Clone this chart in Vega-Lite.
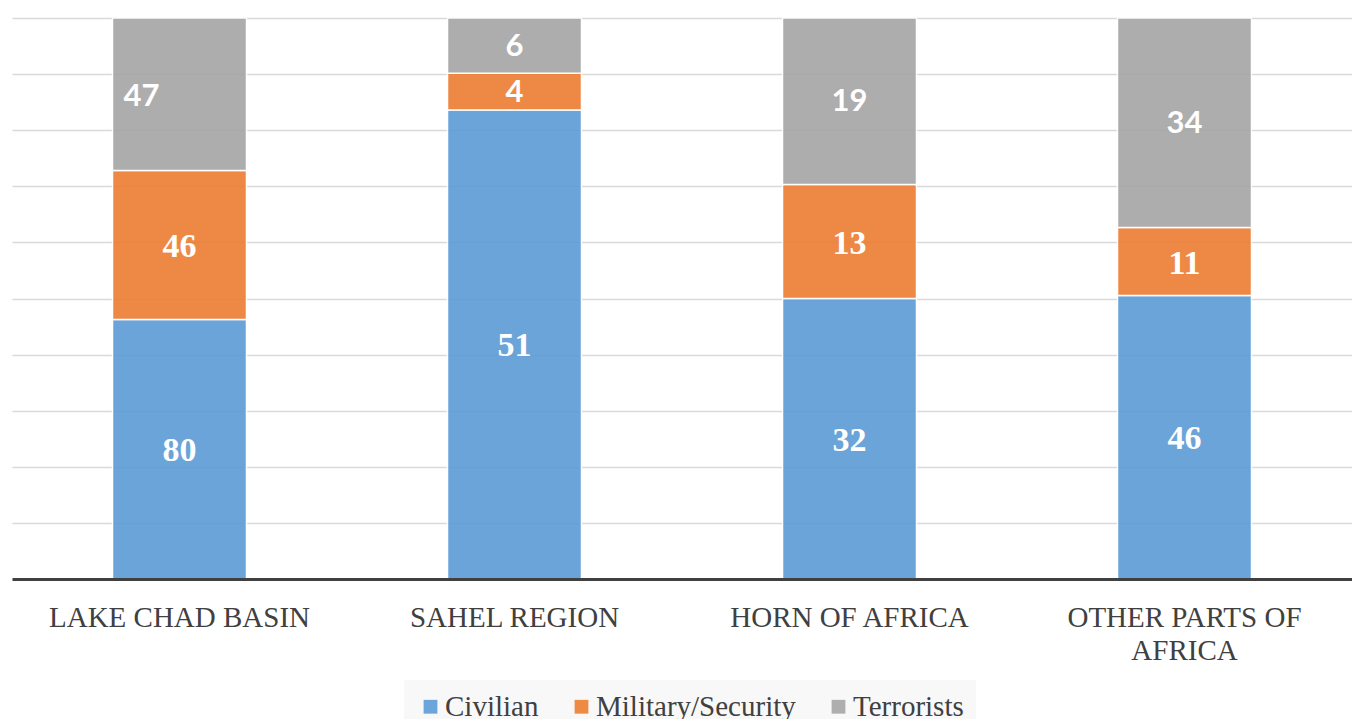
{
  "$schema": "https://vega.github.io/schema/vega-lite/v6.json",
  "width": 1340,
  "height": 561,
  "autosize": {"type": "none"},
  "padding": {"left": 12, "top": 18, "right": 0, "bottom": 140},
  "background": "white",
  "config": {"view": {"stroke": null}},
  "data": {
    "values": [
      {"region": "LAKE CHAD BASIN", "category": "Civilian", "value": 80},
      {"region": "LAKE CHAD BASIN", "category": "Military/Security", "value": 46},
      {"region": "LAKE CHAD BASIN", "category": "Terrorists", "value": 47},
      {"region": "SAHEL REGION", "category": "Civilian", "value": 51},
      {"region": "SAHEL REGION", "category": "Military/Security", "value": 4},
      {"region": "SAHEL REGION", "category": "Terrorists", "value": 6},
      {"region": "HORN OF AFRICA", "category": "Civilian", "value": 32},
      {"region": "HORN OF AFRICA", "category": "Military/Security", "value": 13},
      {"region": "HORN OF AFRICA", "category": "Terrorists", "value": 19},
      {"region": "OTHER PARTS OF AFRICA", "category": "Civilian", "value": 46},
      {"region": "OTHER PARTS OF AFRICA", "category": "Military/Security", "value": 11},
      {"region": "OTHER PARTS OF AFRICA", "category": "Terrorists", "value": 34}
    ]
  },
  "encoding": {
    "x": {
      "field": "region",
      "type": "nominal",
      "sort": ["LAKE CHAD BASIN", "SAHEL REGION", "HORN OF AFRICA", "OTHER PARTS OF AFRICA"],
      "scale": {"paddingInner": 0.6, "paddingOuter": 0.3},
      "axis": {
        "title": null,
        "labelAngle": 0,
        "labelFont": "Liberation Serif",
        "labelFontSize": 29,
        "labelColor": "#404040",
        "labelPadding": 24,
        "labelLineHeight": 33,
        "labelLimit": 0,
        "labelBaseline": "top",
        "ticks": false,
        "domainColor": "#404040",
        "domainWidth": 3,
        "zindex": 1,
        "labelExpr": "datum.label == 'OTHER PARTS OF AFRICA' ? ['OTHER PARTS OF', 'AFRICA'] : datum.label"
      }
    },
    "order": {"field": "category", "sort": "ascending"}
  },
  "layer": [
    {
      "mark": {"type": "bar", "opacity": 0.9, "stroke": "white", "strokeWidth": 1.5},
      "encoding": {
        "y": {
          "field": "value",
          "type": "quantitative",
          "stack": "normalize",
          "scale": {"domain": [0, 1]},
          "axis": {
            "title": null,
            "labels": false,
            "ticks": false,
            "domain": false,
            "grid": true,
            "gridColor": "#D9D9D9",
            "gridWidth": 1.5,
            "values": [0, 0.1, 0.2, 0.3, 0.4, 0.5, 0.6, 0.7, 0.8, 0.9, 1]
          }
        },
        "color": {
          "field": "category",
          "type": "nominal",
          "scale": {
            "domain": ["Civilian", "Military/Security", "Terrorists"],
            "range": ["#5B9BD5", "#ED7D31", "#A5A5A5"]
          },
          "legend": {
            "title": null,
            "orient": "none",
            "legendX": 392,
            "legendY": 662,
            "direction": "horizontal",
            "labelFont": "Liberation Serif",
            "labelFontSize": 29,
            "labelColor": "#404040",
            "labelLimit": 400,
            "symbolType": "square",
            "symbolSize": 190,
            "symbolStrokeWidth": 0,
            "symbolOpacity": 0.9,
            "fillColor": "#F8F8F8",
            "padding": 12,
            "columnPadding": 28,
            "labelOffset": 0
          }
        }
      }
    },
    {
      "mark": {"type": "text", "font": "Liberation Serif", "fontWeight": "bold", "fontSize": 34, "color": "white", "baseline": "middle", "dy": 2},
      "encoding": {
        "y": {"field": "value", "type": "quantitative", "stack": "normalize", "bandPosition": 0.5},
        "detail": {"field": "category"},
        "text": {"field": "value", "type": "quantitative"},
        "opacity": {
          "condition": {"test": "datum.category != 'Terrorists' && !(datum.region == 'SAHEL REGION' && datum.category == 'Military/Security')", "value": 1},
          "value": 0
        }
      }
    },
    {
      "mark": {"type": "text", "font": "Lato", "fontWeight": "bold", "fontSize": 31, "color": "white", "baseline": "middle", "dy": 1},
      "encoding": {
        "y": {"field": "value", "type": "quantitative", "stack": "normalize", "bandPosition": 0.5},
        "detail": {"field": "category"},
        "text": {"field": "value", "type": "quantitative"},
        "opacity": {
          "condition": {"test": "(datum.category == 'Terrorists' && datum.region != 'LAKE CHAD BASIN') || (datum.region == 'SAHEL REGION' && datum.category == 'Military/Security')", "value": 1},
          "value": 0
        }
      }
    },
    {
      "mark": {"type": "text", "font": "Lato", "fontWeight": "bold", "fontSize": 31, "color": "white", "baseline": "middle", "dx": -38, "dy": 3},
      "encoding": {
        "y": {"field": "value", "type": "quantitative", "stack": "normalize", "bandPosition": 0.5},
        "detail": {"field": "category"},
        "text": {"field": "value", "type": "quantitative"},
        "opacity": {
          "condition": {"test": "datum.category == 'Terrorists' && datum.region == 'LAKE CHAD BASIN'", "value": 1},
          "value": 0
        }
      }
    }
  ]
}
